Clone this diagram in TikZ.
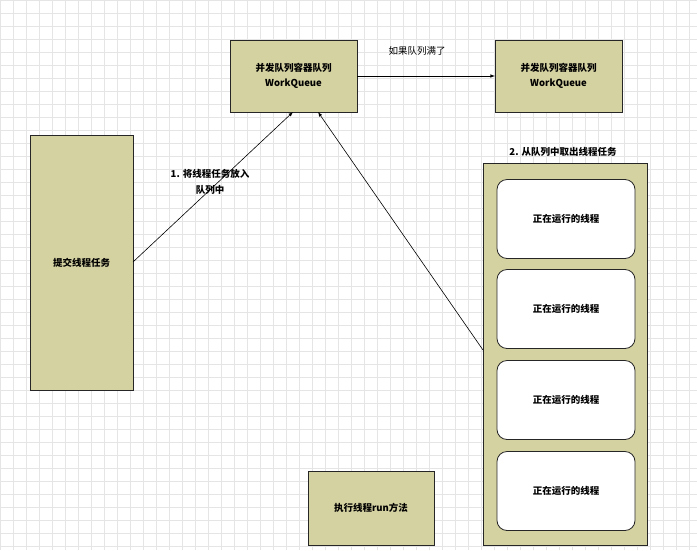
\documentclass[tikz,border=0pt]{standalone}
\usepackage{fontspec}
\setmainfont{Noto Sans CJK SC}
\newfontfamily\cjkb{Noto Sans CJK SC}[FakeBold=0]
\begin{document}
\begin{tikzpicture}[x=1pt,y=-1pt,
 box/.style={draw=black!85,fill=olv,line width=0.8pt,align=center,font=\fontsize{9.5}{15}\selectfont\bfseries,inner sep=0pt},
 rbox/.style={draw=black!85,fill=white,rounded corners=10pt,line width=0.8pt,minimum width=138pt,minimum height=79pt,font=\fontsize{9.5}{12}\selectfont\bfseries},
 arr/.style={-latex,line width=0.6pt},
 lbl/.style={font=\fontsize{9.5}{14}\selectfont,align=center}]
\definecolor{olv}{HTML}{D5D2A2}
\useasboundingbox (0,0) rectangle (697,550);
\foreach \x in {0,13,...,697} \draw[black!10,line width=0.5pt] (\x,0)--(\x,550);
\foreach \y in {0,13,...,550} \draw[black!10,line width=0.5pt] (0,\y)--(697,\y);
\node[box,minimum width=127pt,minimum height=72pt] (q1) at (293.5,76) {并发队列容器队列\\WorkQueue};
\node[box,minimum width=127pt,minimum height=72pt] (q2) at (558.5,76) {并发队列容器队列\\WorkQueue};
\node[box,minimum width=103pt,minimum height=255pt] (sub) at (81.5,262.5) {提交线程任务};
\node[box,minimum width=164pt,minimum height=382pt] (pool) at (565,354) {};
\node[box,minimum width=126pt,minimum height=74pt] (run) at (371,508) {执行线程run方法};
\node[rbox] (t1) at (566,219) {正在运行的线程};
\node[rbox] (t2) at (566,309) {正在运行的线程};
\node[rbox] (t3) at (566,400) {正在运行的线程};
\node[rbox] (t4) at (566,491) {正在运行的线程};
\node[lbl,font=\fontsize{9.5}{12}\selectfont\bfseries] (pl) at (563,152) {2. 从队列中取出线程任务};
\coordinate (a1) at (133,262);
\coordinate (a2) at (293,112);
\draw[arr] (a1) -- (a2);
\node[lbl,font=\fontsize{9.5}{16}\selectfont\bfseries] (l1) at (210,182) {1. 将线程任务放入\\队列中};
\coordinate (b1) at (483,350);
\coordinate (b2) at (318,112);
\draw[arr] (b1) -- (b2);
\coordinate (c1) at (357,76);
\coordinate (c2) at (495,76);
\draw[arr] (c1) -- (c2);
\node[lbl] (l2) at (417,51) {如果队列满了};
\end{tikzpicture}
\end{document}
